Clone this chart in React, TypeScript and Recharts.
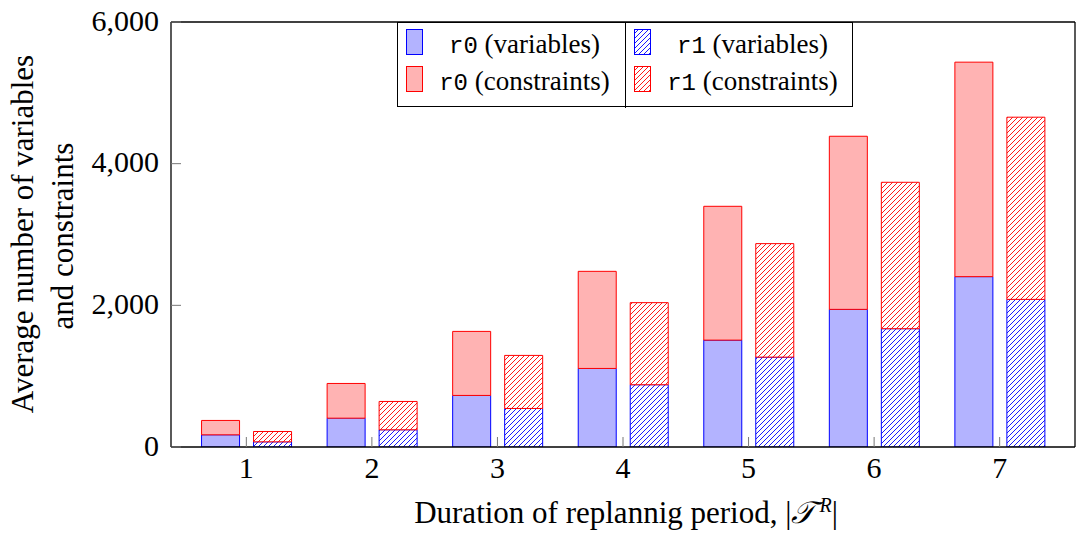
import { Bar, BarChart, XAxis, YAxis } from 'recharts';

const periods = [1, 2, 3, 4, 5, 6, 7];
const r0Variables = [172, 407, 728, 1109, 1509, 1943, 2405];
const r0Constraints = [203, 490, 904, 1371, 1889, 2444, 3028];
const r1Variables = [73, 243, 544, 879, 1269, 1670, 2084];
const r1Constraints = [146, 400, 749, 1159, 1602, 2067, 2572];
const yTicks = [0, 2000, 4000, 6000];

const data = periods.map((p, i) => ({
  x: p,
  r0v: r0Variables[i],
  r0c: r0Constraints[i],
  r1v: r1Variables[i],
  r1c: r1Constraints[i],
}));

const SERIF = "'Liberation Serif', 'Times New Roman', serif";
const MONO = "'Liberation Mono', monospace";
const BLUE = '#0000ff';
const RED = '#ff0000';
const BLUE_FILL = '#b3b3ff';
const RED_FILL = '#ffb3b3';

function Hatch({ id, color }: { id: string; color: string }) {
  return (
    <pattern id={id} patternUnits="userSpaceOnUse" width={5} height={5}>
      <rect width={5} height={5} fill="#fff" />
      <path d="M0,5 L5,0 M-1,1 L1,-1 M4,6 L6,4" stroke={color} strokeWidth={0.9} />
    </pattern>
  );
}

function YLabel() {
  return (
    <g>
      <text
        x={22}
        y={234}
        fontFamily={SERIF}
        fontSize={31}
        fill="#000"
        textAnchor="middle"
        dominantBaseline="central"
        transform="rotate(-90, 22, 234)"
      >
        Average number of variables
      </text>
      <text
        x={62}
        y={236}
        fontFamily={SERIF}
        fontSize={31}
        fill="#000"
        textAnchor="middle"
        dominantBaseline="central"
        transform="rotate(-90, 62, 236)"
      >
        and constraints
      </text>
    </g>
  );
}

function XLabel() {
  return (
    <text x={626} y={523} textAnchor="middle" fontFamily={SERIF} fontSize={31} fill="#000">
      Duration of replannig period, |<tspan fontStyle="italic">𝒯</tspan>
      <tspan dx={4} dy={-11} fontSize={20} fontStyle="italic">R</tspan>
      <tspan dy={11}>|</tspan>
    </text>
  );
}

function XTick({ x, y, payload }: any) {
  return (
    <text x={x} y={y} dy="0.71em" textAnchor="middle" fontFamily={SERIF} fontSize={30} fill="#000">
      {payload.value}
    </text>
  );
}

function YTick({ x, y, payload }: any) {
  return (
    <text x={x} y={y - 2} textAnchor="end" dominantBaseline="central" fontFamily={SERIF} fontSize={30} fill="#000">
      {payload.value.toLocaleString('en-US')}
    </text>
  );
}

function Swatch({ fill, stroke, hatch }: { fill: string; stroke: string; hatch?: string }) {
  return (
    <svg width={17} height={26} style={{ display: 'block' }}>
      {hatch && (
        <defs>
          <Hatch id={hatch} color={stroke} />
        </defs>
      )}
      <rect x={0.5} y={0.5} width={16} height={25} fill={hatch ? `url(#${hatch})` : fill} stroke={stroke} />
    </svg>
  );
}

function LegendRow({ name, kind, top, swatch }: { name: string; kind: string; top: number; swatch: any }) {
  return (
    <div style={{ position: 'absolute', top, left: 8, right: 0, height: 26, display: 'flex', alignItems: 'center' }}>
      {swatch}
      <div
        style={{
          flex: 1,
          textAlign: 'center',
          fontFamily: SERIF,
          fontSize: 27,
          lineHeight: '26px',
          whiteSpace: 'nowrap',
          position: 'relative',
          top: 3,
        }}
      >
        <span style={{ fontFamily: MONO, fontSize: 24 }}>{name}</span> ({kind})
      </div>
    </div>
  );
}

function ChartLegend() {
  const col = (left: number, name: string, hatched: boolean) => (
    <div style={{ position: 'absolute', left, top: 0, width: 228, height: 85 }}>
      <LegendRow
        name={name}
        kind="variables"
        top={6}
        swatch={<Swatch fill={BLUE_FILL} stroke={BLUE} hatch={hatched ? 'lgb' : undefined} />}
      />
      <LegendRow
        name={name}
        kind="constraints"
        top={43}
        swatch={<Swatch fill={RED_FILL} stroke={RED} hatch={hatched ? 'lgr' : undefined} />}
      />
    </div>
  );
  return (
    <div
      style={{
        position: 'absolute',
        left: 397,
        top: 22,
        width: 456,
        height: 85,
        border: '1px solid #000',
        background: '#fff',
        boxSizing: 'border-box',
      }}
    >
      {col(0, 'r0', false)}
      <div style={{ position: 'absolute', left: 227, top: 0, width: 1, height: 85, background: '#000' }} />
      {col(228, 'r1', true)}
    </div>
  );
}

export default function App() {
  return (
    <div style={{ position: 'absolute', left: 0, top: 0, width: 1077, height: 533, background: '#fff', fontFamily: SERIF }}>
      <BarChart
        width={1077}
        height={533}
        data={data}
        margin={{ top: 21, right: 1, left: 0, bottom: 56 }}
        barSize={38}
        barGap={14}
      >
        <defs>
          <Hatch id="hatchBlue" color={BLUE} />
          <Hatch id="hatchRed" color={RED} />
        </defs>
        <XAxis
          xAxisId="bottom"
          type="number"
          dataKey="x"
          domain={[0.4, 7.6]}
          ticks={periods}
          allowDataOverflow
          height={30}
          tickSize={-10}
          tickMargin={20}
          axisLine={{ stroke: '#000', strokeWidth: 1.3 }}
          tickLine={{ stroke: '#777' }}
          tick={<XTick />}
          label={<XLabel />}
        />
        <XAxis
          xAxisId="top"
          orientation="top"
          type="number"
          dataKey="x"
          domain={[0.4, 7.6]}
          ticks={periods}
          allowDataOverflow
          height={1}
          tickSize={-10}
          tick={false}
          axisLine={{ stroke: '#000', strokeWidth: 1.3 }}
          tickLine={{ stroke: '#777' }}
        />
        <YAxis
          yAxisId="left"
          domain={[0, 6000]}
          ticks={yTicks}
          allowDataOverflow
          width={171}
          tickSize={-10}
          tickMargin={22}
          axisLine={{ stroke: '#000', strokeWidth: 1.3 }}
          tickLine={{ stroke: '#777' }}
          tick={<YTick />}
          label={<YLabel />}
        />
        <YAxis
          yAxisId="right"
          orientation="right"
          domain={[0, 6000]}
          ticks={yTicks}
          allowDataOverflow
          width={1}
          tickSize={-8}
          tick={false}
          axisLine={{ stroke: '#000', strokeWidth: 1.3 }}
          tickLine={{ stroke: '#777' }}
        />
        <Bar xAxisId="bottom" yAxisId="left" dataKey="r0v" stackId="r0" fill={BLUE_FILL} stroke={BLUE} isAnimationActive={false} />
        <Bar xAxisId="bottom" yAxisId="left" dataKey="r0c" stackId="r0" fill={RED_FILL} stroke={RED} isAnimationActive={false} />
        <Bar xAxisId="bottom" yAxisId="left" dataKey="r1v" stackId="r1" fill="url(#hatchBlue)" stroke={BLUE} isAnimationActive={false} />
        <Bar xAxisId="bottom" yAxisId="left" dataKey="r1c" stackId="r1" fill="url(#hatchRed)" stroke={RED} isAnimationActive={false} />
      </BarChart>
      <ChartLegend />
    </div>
  );
}
